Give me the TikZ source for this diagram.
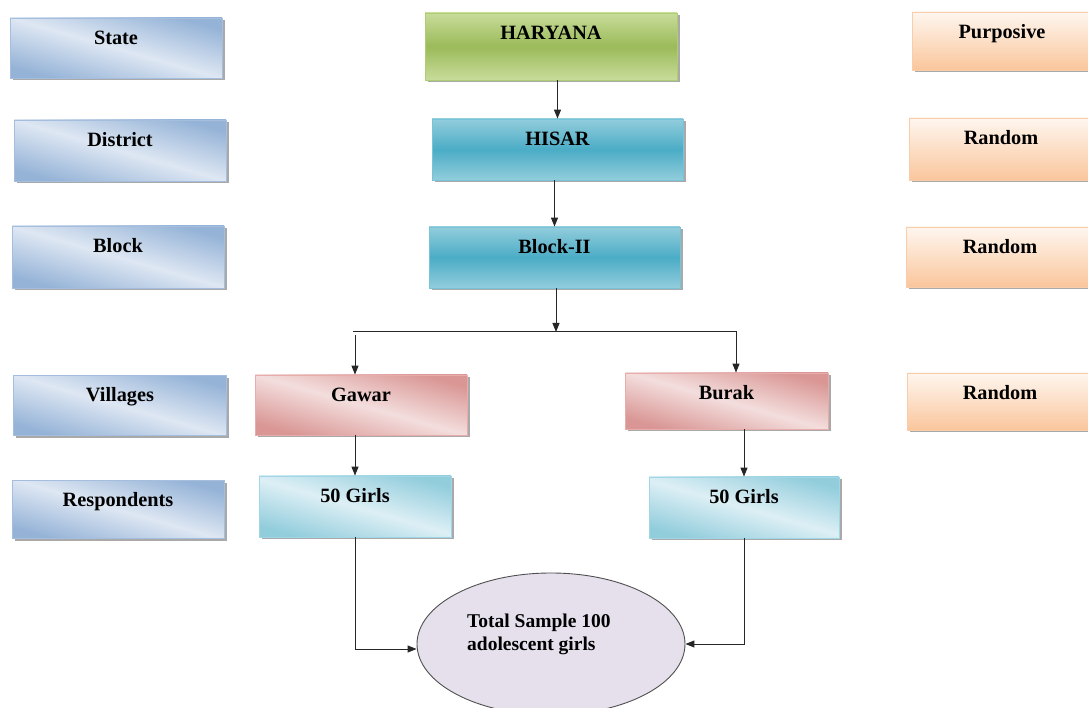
\documentclass[tikz,border=0pt]{standalone}
\usepackage{fontspec}
\setmainfont{Liberation Serif}
\usetikzlibrary{arrows.meta,shadows,shapes.geometric}
\definecolor{blueD}{RGB}{149,179,215}
\definecolor{blueL}{RGB}{222,231,243}
\definecolor{blueB}{RGB}{165,190,222}
\definecolor{pinkD}{RGB}{217,150,148}
\definecolor{pinkL}{RGB}{243,222,221}
\definecolor{pinkB}{RGB}{232,172,170}
\definecolor{cyanD}{RGB}{146,205,220}
\definecolor{cyanL}{RGB}{221,239,245}
\definecolor{cyanB}{RGB}{160,214,230}
\definecolor{greenT}{RGB}{200,220,155}
\definecolor{greenM}{RGB}{155,187,89}
\definecolor{greenB}{RGB}{175,205,115}
\definecolor{tealT}{RGB}{146,205,220}
\definecolor{tealM}{RGB}{75,172,198}
\definecolor{tealB}{RGB}{120,195,215}
\definecolor{orT}{RGB}{254,246,239}
\definecolor{orB}{RGB}{250,198,156}
\definecolor{orE}{RGB}{250,205,170}
\definecolor{ellF}{RGB}{229,224,236}
\definecolor{ellD}{RGB}{80,80,80}
\begin{document}
\begin{tikzpicture}[x=1pt,y=-1pt,
  font=\fontsize{20.3}{23}\selectfont\bfseries,
  base/.style={rectangle, inner sep=0pt, text height=13.5pt, line width=0.8pt,
    drop shadow={shadow xshift=2.5pt, shadow yshift=-2.5pt, fill=black!45, opacity=0.75}},
  bluebox/.style={base, draw=blueB, top color=blueD, bottom color=blueD, middle color=blueL, shading angle=-16},
  pinkbox/.style={base, draw=pinkB, top color=pinkD, bottom color=pinkD, middle color=pinkL, shading angle=-16},
  cyanbox/.style={base, draw=cyanB, top color=cyanD, bottom color=cyanD, middle color=cyanL, shading angle=-16},
  greenbox/.style={base, draw=greenB, top color=greenT, bottom color=greenT, middle color=greenM},
  tealbox/.style={base, draw=tealB, top color=tealT, bottom color=tealT, middle color=tealM},
  orbox/.style={base, draw=orE, top color=orT, bottom color=orB},
  arr/.style={line width=1pt, draw=black!85, -{Triangle[length=9pt,width=7pt]}},
]
\useasboundingbox (0,0) rectangle (1088,708);

% left column
\node[bluebox, minimum width=212pt, minimum height=60pt, text depth=20.5pt] (state) at (116,48) {State};
\node[bluebox, minimum width=212pt, minimum height=61pt, text depth=21.5pt] (district) at (120,150.5) {District};
\node[bluebox, minimum width=212pt, minimum height=62pt, text depth=22.5pt] (block) at (118,257) {Block};
\node[bluebox, minimum width=213pt, minimum height=60pt, text depth=20.5pt] (villages) at (120,405.5) {Villages};
\node[bluebox, minimum width=212pt, minimum height=58pt, text depth=18.5pt] (resp) at (118,509.5) {Respondents};

% centre column
\node[greenbox, minimum width=252pt, minimum height=67pt, text depth=27.5pt] (haryana) at (551,46.5) {HARYANA};
\node[tealbox, minimum width=251pt, minimum height=61pt, text depth=21.5pt] (hisar) at (557.5,149.5) {HISAR};
\node[tealbox, minimum width=251pt, minimum height=61pt, text depth=21.5pt] (blockii) at (554.5,257.5) {Block-II};
\node[pinkbox, minimum width=212pt, minimum height=60pt, text depth=20.5pt] (gawar) at (361,405) {Gawar};
\node[pinkbox, minimum width=203pt, minimum height=56pt, text depth=16.5pt] (burak) at (726.5,401) {Burak};
\node[cyanbox, minimum width=192pt, minimum height=61pt, text depth=21.5pt] (girlsL) at (355,506.5) {50 Girls};
\node[cyanbox, minimum width=190pt, minimum height=61pt, text depth=21.5pt] (girlsR) at (744,507.5) {50 Girls};

% right column
\node[orbox, minimum width=180pt, minimum height=58pt, text depth=18.5pt] (purp) at (1002,41) {Purposive};
\node[orbox, minimum width=184pt, minimum height=62pt, text depth=22.5pt] (rand1) at (1001,149) {Random};
\node[orbox, minimum width=188pt, minimum height=60pt, text depth=20.5pt] (rand2) at (1000,257) {Random};
\node[orbox, minimum width=186pt, minimum height=57pt, text depth=17.5pt] (rand3) at (1000,401.5) {Random};

% ellipse
\node[ellipse, draw=ellD, fill=ellF, line width=0.9pt, minimum width=268pt, minimum height=142pt, inner sep=0pt] (total) at (551,644) {};
\node[font=\fontsize{19.5}{23}\selectfont\bfseries, align=left, inner sep=0pt, anchor=west] (totaltxt) at (467,634) {Total Sample 100\\adolescent girls};

% connectors
\coordinate (split) at (556,332);
\coordinate (lend) at (353,332);
\coordinate (rend) at (736,332);
\coordinate (lbr) at (355,335);
\draw[arr] (haryana.south -| hisar.north) -- (hisar.north);
\draw[arr] (hisar.south -| blockii.north) -- (blockii.north);
\draw[arr] (blockii.south -| split) -- (split);
\draw[arr] (lend) -- (rend) -- (rend |- burak.north);
\draw[arr] (lbr) -- (lbr |- gawar.north);
\draw[arr] (gawar.south -| girlsL.north) -- (girlsL.north);
\draw[arr] (burak.south -| girlsR.north) -- (girlsR.north);
\draw[arr] (girlsL.south) |- ([yshift=-5pt]total.west);
\draw[arr] (girlsR.south) |- (total.east);
\end{tikzpicture}
\end{document}
